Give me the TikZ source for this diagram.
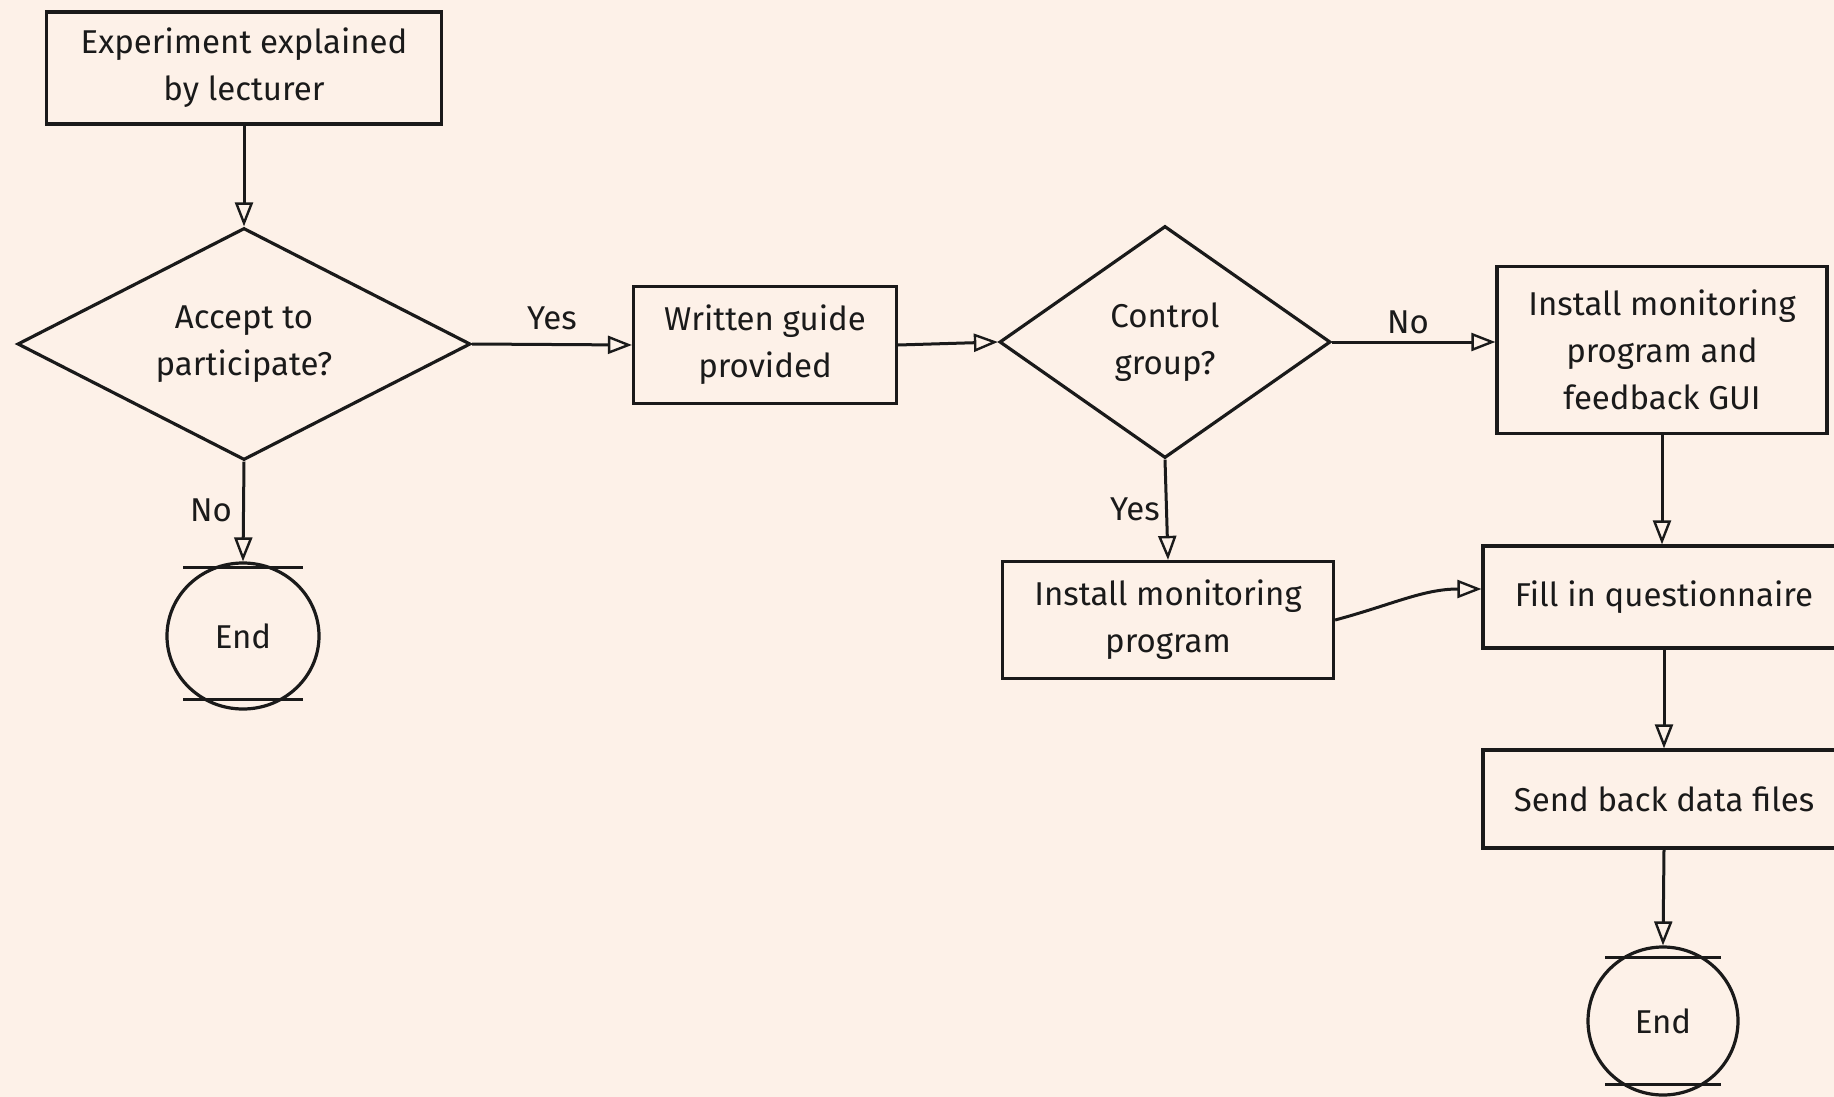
\documentclass[tikz,border=0pt]{standalone}
\usepackage{fontspec}
\setmainfont{Fira Sans}
\usetikzlibrary{shapes.geometric,arrows.meta}
\definecolor{bgcol}{HTML}{FDF1E8}
\definecolor{ink}{HTML}{1A1A1A}
\tikzset{
  base/.style={draw=ink, line width=3.2pt, fill=bgcol, align=center, text=ink,
    font=\fontsize{33}{47}\selectfont, inner sep=0pt},
  procbox/.style={base, rectangle},
  decbox/.style={base, diamond},
  endbox/.style={base, ellipse, minimum width=152, minimum height=146},
  conn/.style={draw=ink, line width=3pt, -{Triangle[open, length=24, width=18, line width=2.4pt]}},
  chord/.style={draw=ink, line width=2.6pt},
  lbl/.style={text=ink, font=\fontsize{33}{40}\selectfont, inner sep=0pt}
}
\begin{document}
\begin{tikzpicture}[x=1pt,y=-1pt]
\fill[bgcol] (0,0) rectangle (1834,1097);
\useasboundingbox (0,0) rectangle (1834,1097);

\node[procbox, minimum width=395, minimum height=112] (e1) at (244,68) {Experiment explained\\by lecturer};
\node[decbox, aspect=1.95, minimum width=453, minimum height=232] (d1) at (244,344) {Accept to\\participate?};
\node[procbox, minimum width=263, minimum height=117] (wg) at (765,345) {Written guide\\provided};
\node[decbox, aspect=1.43, minimum width=331, minimum height=232] (cg) at (1165,342) {Control\\group?};
\node[procbox, minimum width=330, minimum height=167] (ig) at (1662,350) {Install monitoring\\program and\\feedback GUI};
\node[endbox] (end1) at (243,636) {End};
\node[procbox, minimum width=331, minimum height=117] (im) at (1168,620) {Install monitoring\\program};
\node[procbox, minimum width=362, minimum height=102] (fq) at (1664,597) {Fill in questionnaire};
\node[procbox, minimum width=362, minimum height=98] (sb) at (1664,799) {Send back data files};
\node[endbox, minimum width=150, minimum height=148] (end2) at (1663,1021) {End};

% sketch chords on terminators
\draw[chord] ([xshift=-60pt,yshift=-6pt]end1.north) -- ([xshift=60pt,yshift=-6pt]end1.north);
\draw[chord] ([xshift=-60pt,yshift=11pt]end1.south) -- ([xshift=60pt,yshift=11pt]end1.south);
\draw[chord] ([xshift=-58pt,yshift=-12pt]end2.north) -- ([xshift=58pt,yshift=-12pt]end2.north);
\draw[chord] ([xshift=-58pt,yshift=12pt]end2.south) -- ([xshift=58pt,yshift=12pt]end2.south);

\draw[conn] (e1.south) -- (d1.north);
\draw[conn] (d1.east) -- (wg.west);
\draw[conn] (d1.south) -- (end1.north);
\draw[conn] (wg.east) -- (cg.west);
\draw[conn] (cg.east) -- (ig.west |- cg.east);
\draw[conn] (cg.south) -- (im.north);
\draw[conn] (im.east) to[out=15,in=180] ([yshift=8pt]fq.west);
\draw[conn] (ig.south) -- (fq.north -| ig.south);
\draw[conn] (fq.south) -- (sb.north);
\draw[conn] (sb.south) -- (end2.north);

\node[lbl] (ly1) at (552,318) {Yes};
\node[lbl] (ln1) at (211,510) {No};
\node[lbl] (ln2) at (1408,322) {No};
\node[lbl] (ly2) at (1135,509) {Yes};
\end{tikzpicture}
\end{document}
